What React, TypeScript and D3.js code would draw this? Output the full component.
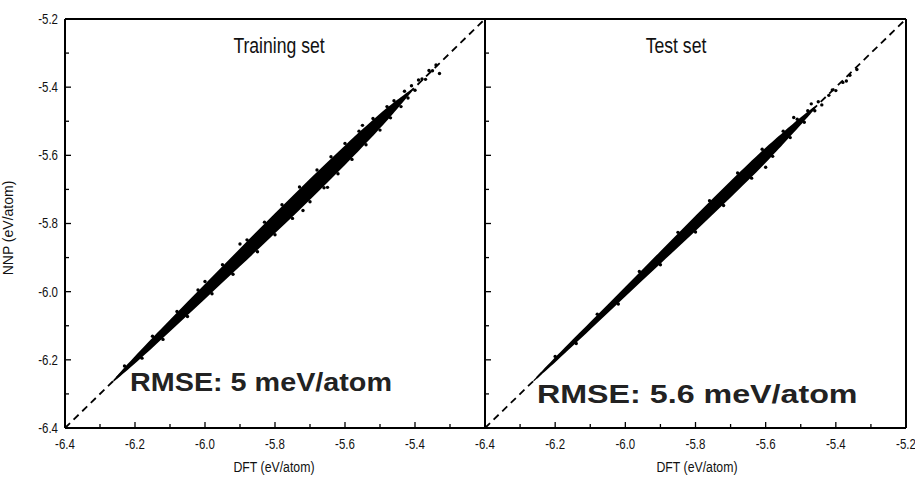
import React from "react";
import * as d3 from "d3";

// ---- data (eV/atom) ----
const xTicksMajor = [-6.4, -6.2, -6.0, -5.8, -5.6, -5.4, -5.2];
const xTicksMinor = [-6.3, -6.1, -5.9, -5.7, -5.5, -5.3];
const yTicksMajor = [-6.4, -6.2, -6.0, -5.8, -5.6, -5.4, -5.2];
const yTicksMinor = [-6.3, -6.1, -5.9, -5.7, -5.5, -5.3];

// dense band envelope: offset (NNP - DFT) at given DFT
const trainBandDft = [-6.262, -6.2, -6.1, -6.0, -5.9, -5.8, -5.7, -5.6, -5.5, -5.45, -5.41];
const trainBandLo = [-0.003, -0.012, -0.017, -0.021, -0.026, -0.029, -0.031, -0.029, -0.022, -0.013, -0.004];
const trainBandHi = [0.003, 0.012, 0.018, 0.022, 0.027, 0.030, 0.032, 0.030, 0.023, 0.014, 0.004];

const testBandDft = [-6.262, -6.2, -6.1, -6.0, -5.9, -5.8, -5.7, -5.6, -5.55, -5.5, -5.46];
const testBandLo = [-0.002, -0.008, -0.011, -0.014, -0.018, -0.022, -0.024, -0.023, -0.017, -0.011, -0.004];
const testBandHi = [0.002, 0.008, 0.011, 0.014, 0.019, 0.023, 0.025, 0.024, 0.018, 0.012, 0.004];

// scattered points around the band: DFT and offset (NNP - DFT)
const trainPtsDft = [-6.23, -6.18, -6.15, -6.12, -6.08, -6.05, -6.02, -5.98, -5.95, -5.92, -5.88, -5.85, -5.83, -5.80, -5.78, -5.75, -5.73, -5.70, -5.68, -5.66, -5.64, -5.62, -5.60, -5.58, -5.56, -5.54, -5.52, -5.50, -5.48, -5.47, -5.46, -5.44, -5.43, -5.42, -5.41, -5.40, -5.39, -5.38, -5.37, -5.36, -5.35, -5.34, -5.33, -5.90, -5.72, -5.55, -6.00, -5.65];
const trainPtsOff = [0.012, -0.015, 0.019, -0.020, 0.022, -0.023, 0.025, -0.026, 0.029, -0.029, 0.032, -0.033, 0.034, -0.033, 0.035, -0.035, 0.037, -0.036, 0.037, -0.035, 0.036, -0.034, 0.035, -0.032, 0.031, -0.029, 0.028, -0.026, 0.023, -0.020, 0.020, -0.017, 0.018, -0.012, 0.014, -0.009, 0.011, 0.004, -0.007, 0.009, -0.002, 0.005, -0.030, 0.040, -0.042, 0.038, 0.030, -0.044];

const testPtsDft = [-6.20, -6.14, -6.08, -6.02, -5.96, -5.90, -5.85, -5.80, -5.76, -5.72, -5.68, -5.64, -5.61, -5.58, -5.55, -5.53, -5.51, -5.49, -5.48, -5.46, -5.45, -5.44, -5.42, -5.41, -5.40, -5.38, -5.37, -5.36, -5.34, -5.52, -5.60, -5.47];
const testPtsOff = [0.010, -0.012, 0.014, -0.016, 0.019, -0.021, 0.024, -0.025, 0.027, -0.027, 0.028, -0.027, 0.028, -0.023, 0.021, -0.018, 0.016, -0.013, 0.011, -0.009, 0.007, -0.012, -0.004, 0.002, -0.010, -0.006, -0.012, -0.005, -0.008, 0.031, -0.035, 0.021];

const panels = [
  { title: "Training set", rmse: "RMSE: 5 meV/atom", bandDft: trainBandDft, bandLo: trainBandLo, bandHi: trainBandHi, ptsDft: trainPtsDft, ptsOff: trainPtsOff },
  { title: "Test set", rmse: "RMSE: 5.6 meV/atom", bandDft: testBandDft, bandLo: testBandLo, bandHi: testBandHi, ptsDft: testPtsDft, ptsOff: testPtsOff },
];

const W = 915;
const H = 481;
const top = 19;
const bottom = 428;
const xRanges: [number, number][] = [[65, 485], [485, 906]];
const titleX = [279, 676];
const labelX = [274, 697];
const rmsePos = [
  { x: 130, y: 391, size: 25, sx: 1.15 },
  { x: 537, y: 403, size: 26, sx: 1.24 },
];

const sans = "'Liberation Sans', Arial, sans-serif";

function NText(props: { x: number; y: number; size: number; anchor?: string; sx?: number; dy?: string; children: React.ReactNode }) {
  const { x, y, size, anchor = "middle", sx = 0.82, dy, children } = props;
  return (
    <g transform={`translate(${x},${y}) scale(${sx},1)`}>
      <text x={0} y={0} dy={dy} textAnchor={anchor as any} fontFamily={sans} fontSize={size} fill="#111">
        {children}
      </text>
    </g>
  );
}

export default function App() {
  const y = d3.scaleLinear().domain([-6.4, -5.2]).range([bottom, top]);
  const fmt = d3.format(".1f");
  const lab = (v: number) => fmt(v).replace("\u2212", "-");

  return (
    <svg width={W} height={H} style={{ position: "absolute", left: 0, top: 0, background: "#fff" }}>
      <rect width={W} height={H} fill="#fff" />
      {panels.map((p, i) => {
        const x = d3.scaleLinear().domain([-6.4, -5.2]).range(xRanges[i]);
        const area = d3
          .area<number>()
          .x((_, k) => x(p.bandDft[k]))
          .y0((_, k) => y(p.bandDft[k] + p.bandLo[k]))
          .y1((_, k) => y(p.bandDft[k] + p.bandHi[k]))
          .curve(d3.curveBasis);
        const labelTicks = i === 0 ? xTicksMajor.slice(0, -1) : xTicksMajor;
        return (
          <g key={i}>
            <line x1={x(-6.4)} y1={y(-6.4)} x2={x(-5.2)} y2={y(-5.2)} stroke="#000" strokeWidth={1.8} strokeDasharray="7,5" />
            <path d={area(p.bandDft) || ""} fill="#000" />
            {p.ptsDft.map((d, k) => (
              <circle key={k} cx={x(d)} cy={y(d + p.ptsOff[k])} r={1.7} fill="#000" />
            ))}
            <line x1={xRanges[i][0]} y1={bottom} x2={xRanges[i][1]} y2={bottom} stroke="#000" strokeWidth={2} />
            <line x1={xRanges[i][0]} y1={top} x2={xRanges[i][1]} y2={top} stroke="#000" strokeWidth={2} />
            <line x1={xRanges[i][0]} y1={top} x2={xRanges[i][0]} y2={bottom} stroke="#000" strokeWidth={2} />
            {i === 1 && <line x1={xRanges[i][1]} y1={top} x2={xRanges[i][1]} y2={bottom} stroke="#000" strokeWidth={2} />}
            {xTicksMajor.map((t) => (
              <line key={"xM" + t} x1={x(t)} x2={x(t)} y1={bottom} y2={bottom - 6} stroke="#000" strokeWidth={1.3} />
            ))}
            {xTicksMinor.map((t) => (
              <line key={"xm" + t} x1={x(t)} x2={x(t)} y1={bottom} y2={bottom - 4} stroke="#000" strokeWidth={1.3} />
            ))}
            {yTicksMajor.map((t) => (
              <line key={"yM" + t} x1={xRanges[i][0]} x2={xRanges[i][0] + 6} y1={y(t)} y2={y(t)} stroke="#000" strokeWidth={1.3} />
            ))}
            {yTicksMinor.map((t) => (
              <line key={"ym" + t} x1={xRanges[i][0]} x2={xRanges[i][0] + 4} y1={y(t)} y2={y(t)} stroke="#000" strokeWidth={1.3} />
            ))}
            {labelTicks.map((t) => (
              <NText key={"xl" + t} x={x(t)} y={449} size={14}>
                {lab(t)}
              </NText>
            ))}
            <NText x={titleX[i]} y={53} size={22} sx={0.8}>
              {p.title}
            </NText>
            <NText x={labelX[i]} y={472} size={15} sx={0.82}>
              DFT (eV/atom)
            </NText>
            <g transform={`translate(${rmsePos[i].x},${rmsePos[i].y}) scale(${rmsePos[i].sx},1)`}>
              <text x={0} y={0} fontFamily={sans} fontWeight="bold" fontSize={rmsePos[i].size} fill="#222">
                {p.rmse}
              </text>
            </g>
          </g>
        );
      })}
      {yTicksMajor.map((t) => (
        <NText key={"yl" + t} x={58} y={y(t)} dy="0.35em" anchor="end" size={14}>
          {lab(t)}
        </NText>
      ))}
      <text transform={`translate(13,228) rotate(-90)`} textAnchor="middle" fontFamily={sans} fontSize={14} fill="#111">
        NNP (eV/atom)
      </text>
    </svg>
  );
}
